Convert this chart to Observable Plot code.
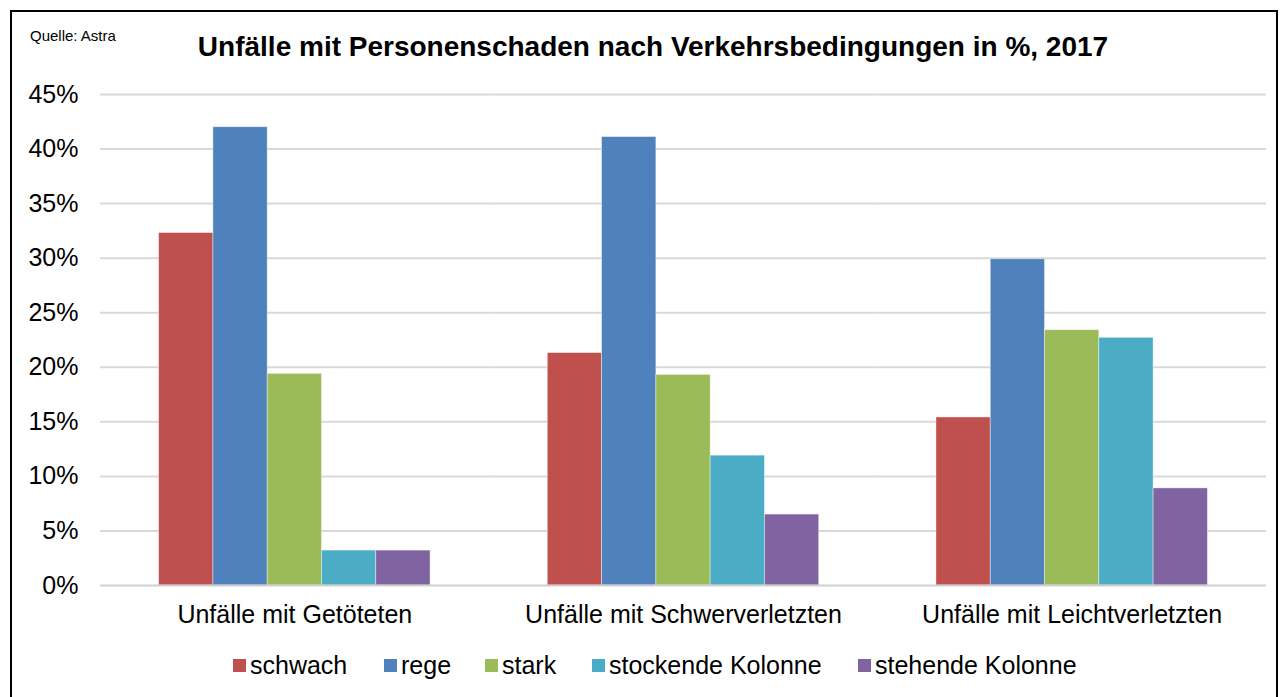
<!DOCTYPE html>
<html>
<head>
<meta charset="utf-8">
<script src="https://cdn.jsdelivr.net/npm/d3@7"></script>
<script src="https://cdn.jsdelivr.net/npm/@observablehq/plot@0.6"></script>
<style>
  html, body { margin: 0; padding: 0; background: #fff; }
  body { width: 1286px; height: 697px; overflow: hidden; position: relative; font-family: "Liberation Sans", Arial, sans-serif; color: #000; }
  #frame { position: absolute; left: 10px; top: 10px; width: 1268px; height: 720px; border: 2px solid #000; box-sizing: border-box; }
  #source { position: absolute; left: 30px; top: 27px; font-size: 15px; }
  #title { position: absolute; left: 153px; width: 1000px; top: 31px; text-align: center; font-size: 28px; font-weight: bold; }
  #chart { position: absolute; left: 0; top: 70px; }
  #legend { position: absolute; top: 650px; left: 0; width: 1286px; height: 30px; }
  .item { position: absolute; top: 0; font-size: 25px; line-height: 30px; white-space: nowrap; }
  .sw { position: absolute; width: 13px; height: 13px; top: 9px; }
</style>
</head>
<body>
<div id="frame"></div>
<div id="source">Quelle: Astra</div>
<div id="title">Unfälle mit Personenschaden nach Verkehrsbedingungen in %, 2017</div>
<div id="chart"></div>
<div id="legend"></div>
<script>
// ---- data ----
const categories = ["Unfälle mit Getöteten", "Unfälle mit Schwerverletzten", "Unfälle mit Leichtverletzten"];
const series = ["schwach", "rege", "stark", "stockende Kolonne", "stehende Kolonne"];
const schwach = [32.3, 21.3, 15.4];
const rege = [42.0, 41.1, 29.9];
const stark = [19.4, 19.3, 23.4];
const stockendeKolonne = [3.2, 11.9, 22.7];
const stehendeKolonne = [3.2, 6.5, 8.9];
const yTicks = [0, 5, 10, 15, 20, 25, 30, 35, 40, 45];
const colors = ["#C0504D", "#4F81BD", "#9BBB59", "#4BACC6", "#8064A2"];

const valuesBySeries = [schwach, rege, stark, stockendeKolonne, stehendeKolonne];
const rows = [];
categories.forEach((c, i) => {
  series.forEach((s, j) => rows.push({category: c, series: s, value: valuesBySeries[j][i]}));
});

const chart = Plot.plot({
  width: 1286,
  height: 570,
  marginLeft: 100,
  marginRight: 20,
  marginTop: 24,
  marginBottom: 55,
  style: {fontSize: "25px", fontFamily: "'Liberation Sans', Arial, sans-serif", color: "#000", background: "transparent"},
  fx: {domain: categories, label: null, tickSize: 0, tickPadding: 20, axis: "bottom", padding: 0, round: false},
  x: {domain: series, axis: null, paddingInner: 0, paddingOuter: 1.08, round: false},
  y: {domain: [0, 45], ticks: yTicks, tickFormat: d => d + "%", tickSize: 0, tickPadding: 22, label: null},
  color: {domain: series, range: colors},
  marks: [
    Plot.ruleY(yTicks.filter(d => d > 0), {stroke: "#d9d9d9", strokeWidth: 2}),
    Plot.barY(rows, {fx: "category", x: "series", y: "value", fill: "series", stroke: "#ffffff", strokeWidth: 0.8, strokeOpacity: 0.5}),
    Plot.ruleY([0], {stroke: "#d0d0d0", strokeWidth: 2})
  ]
});
document.getElementById("chart").appendChild(chart);

// legend
const legendPos = [233, 384, 485, 592, 858];
const legend = document.getElementById("legend");
series.forEach((s, i) => {
  const sw = document.createElement("div");
  sw.className = "sw";
  sw.style.left = legendPos[i] + "px";
  sw.style.background = colors[i];
  legend.appendChild(sw);
  const t = document.createElement("div");
  t.className = "item";
  t.style.left = (legendPos[i] + 17) + "px";
  t.textContent = s;
  legend.appendChild(t);
});
</script>
</body>
</html>
